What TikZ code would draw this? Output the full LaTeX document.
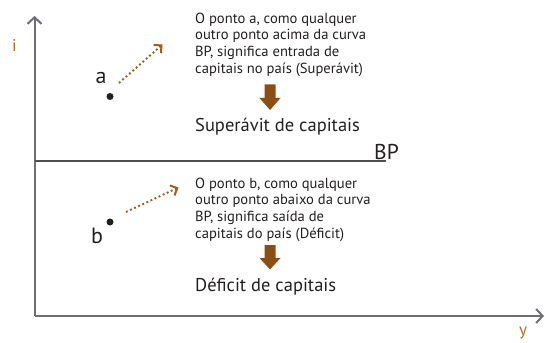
\documentclass[tikz,border=0pt]{standalone}
\usepackage{fontspec}
\setmainfont{PT Sans}
\usetikzlibrary{arrows.meta}
\definecolor{axisgray}{RGB}{110,110,115}
\definecolor{linegray}{RGB}{80,80,82}
\definecolor{txt}{RGB}{35,31,32}
\definecolor{brownarrow}{RGB}{140,78,18}
\definecolor{dotbrown}{RGB}{160,90,25}
\definecolor{labelorange}{RGB}{185,105,30}
\tikzset{
  axis/.style={draw=axisgray, line width=2pt, -{Straight Barb[length=6.5pt,width=14pt,line width=2pt]}},
  bpline/.style={draw=linegray, line width=1.3pt},
  pointdot/.style={circle, fill=txt, inner sep=0pt, minimum size=7pt},
  ptlabel/.style={font=\fontsize{22}{22}\selectfont, text=txt, inner sep=0pt},
  axlabel/.style={font=\fontsize{17}{17}\selectfont, text=labelorange, inner sep=0pt},
  dotarrow/.style={draw=dotbrown, line width=1.9pt, dash pattern=on 1.9pt off 2.6pt, -{Straight Barb[length=5.5pt,width=11pt,line width=2pt,sep=0pt]}},
  blocktext/.style={font=\fontsize{14.6}{16.7}\selectfont, text=txt, align=left, inner sep=0pt, anchor=north west},
  bigtext/.style={font=\fontsize{18.5}{18.5}\selectfont, text=txt, inner sep=0pt, anchor=base west},
  blockarrow/.style={fill=brownarrow},
}
\begin{document}
\begin{tikzpicture}[x=1pt,y=-1pt]
\useasboundingbox (0,0) rectangle (545,342);
% axes
\coordinate (O) at (34.5,316);
\coordinate (ytop) at (34.5,16);
\coordinate (xend) at (544,316);
\draw[axis] (O) -- (ytop);
\draw[axis] (O) -- (xend);
\node[axlabel] (ilab) at (14.5,45) {i};
\node[axlabel] (ylab) at (523,333) {y};
% BP line
\coordinate (bpstart) at (34.5,161);
\coordinate (bpend) at (386,161);
\draw[bpline] (bpstart) -- (bpend);
\node[font=\fontsize{21.5}{21.5}\selectfont, text=txt, inner sep=0pt, anchor=base west] (bplab) at (374,159) {BP};
% point a
\node[pointdot] (a) at (110,96.5) {};
\node[ptlabel] (alab) at (101,78) {a};
\coordinate (aend) at (162.5,44.5);
\coordinate (astart) at (119,83);
\draw[dotarrow] (astart) -- (aend);
% point b
\node[pointdot] (b) at (110,222) {};
\node[ptlabel] (blab) at (97,236) {b};
\coordinate (bstart) at (126,212);
\coordinate (bend) at (178.5,187.5);
\draw[dotarrow] (bstart) -- (bend);
% top text
\node[blocktext] (toptext) at (195,12.5) {O ponto a, como qualquer\\outro ponto acima da curva\\BP, significa entrada de\\capitais no país (Superávit)};
\fill[blockarrow] (264.5,84.5) -- (275.5,84.5) -- (275.5,98) -- (280.5,98) -- (270,110) -- (259.5,98) -- (264.5,98) -- cycle;
\node[bigtext] (sup) at (195,131) {Superávit de capitais};
% bottom text
\node[blocktext] (bottext) at (195,177.5) {O ponto b, como qualquer\\outro ponto abaixo da curva\\BP, significa saída de\\capitais do país (Déficit)};
\fill[blockarrow] (264.5,245) -- (275.5,245) -- (275.5,258) -- (280.5,258) -- (270,269.5) -- (259.5,258) -- (264.5,258) -- cycle;
\node[bigtext] (def) at (195,291) {Déficit de capitais};
\end{tikzpicture}
\end{document}
